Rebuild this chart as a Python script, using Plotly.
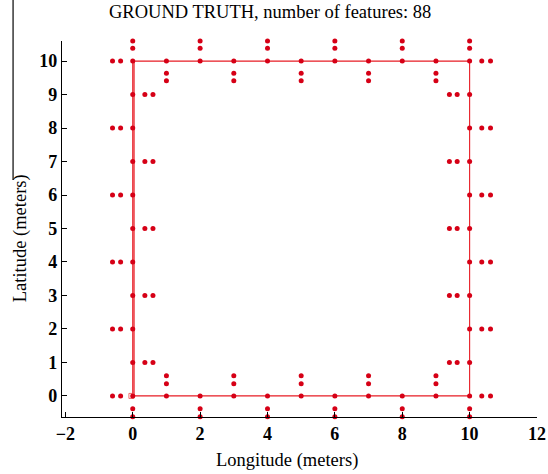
import plotly.graph_objects as go

# Robot path around the 10 m x 10 m square (start at the origin)
path_x = [0.04, 0.04, 10, 10, 0, 0]
path_y = [0, 10, 10, 0, 0, 10]

# Pose markers at every metre along the square perimeter
pose_x = [0, 1, 2, 3, 4, 5, 6, 7, 8, 9, 10,
          0, 1, 2, 3, 4, 5, 6, 7, 8, 9, 10,
          0, 0, 0, 0, 0, 0, 0, 0, 0,
          10, 10, 10, 10, 10, 10, 10, 10, 10]
pose_y = [10, 10, 10, 10, 10, 10, 10, 10, 10, 10, 10,
          0, 0, 0, 0, 0, 0, 0, 0, 0, 0, 0,
          1, 2, 3, 4, 5, 6, 7, 8, 9,
          1, 2, 3, 4, 5, 6, 7, 8, 9]

# Ground-truth landmark positions (88 features)
top_x = [0, 0, 2, 2, 4, 4, 6, 6, 8, 8, 10, 10,
         1, 1, 3, 3, 5, 5, 7, 7, 9, 9]
top_y = [10.38, 10.6, 10.38, 10.6, 10.38, 10.6, 10.38, 10.6, 10.38, 10.6, 10.38, 10.6,
         9.64, 9.41, 9.64, 9.41, 9.64, 9.41, 9.64, 9.41, 9.64, 9.41]

bottom_x = [0, 0, 2, 2, 4, 4, 6, 6, 8, 8, 10, 10,
            1, 1, 3, 3, 5, 5, 7, 7, 9, 9]
bottom_y = [-0.38, -0.62, -0.38, -0.62, -0.38, -0.62, -0.38, -0.62, -0.38, -0.62, -0.38, -0.62,
            0.36, 0.6, 0.36, 0.6, 0.36, 0.6, 0.36, 0.6, 0.36, 0.6]

left_x = [-0.36, -0.6, -0.36, -0.6, -0.36, -0.6, -0.36, -0.6, -0.36, -0.6, -0.36, -0.6,
          0.36, 0.6, 0.36, 0.6, 0.36, 0.6, 0.36, 0.6, 0.36, 0.6]
left_y = [0, 0, 2, 2, 4, 4, 6, 6, 8, 8, 10, 10,
          1, 1, 3, 3, 5, 5, 7, 7, 9, 9]

right_x = [10.36, 10.62, 10.36, 10.62, 10.36, 10.62, 10.36, 10.62, 10.36, 10.62, 10.36, 10.62,
           9.63, 9.4, 9.63, 9.4, 9.63, 9.4, 9.63, 9.4, 9.63, 9.4]
right_y = [0, 0, 2, 2, 4, 4, 6, 6, 8, 8, 10, 10,
           1, 1, 3, 3, 5, 5, 7, 7, 9, 9]

x_ticks = [-2, 0, 2, 4, 6, 8, 10, 12]
y_ticks = [0, 1, 2, 3, 4, 5, 6, 7, 8, 9, 10]

RED_LINE = "rgb(232,28,36)"
RED_DOT = "rgb(214,0,22)"

fig = go.Figure()

fig.add_trace(go.Scatter(x=path_x, y=path_y, mode="lines",
                         line=dict(color=RED_LINE, width=1.1),
                         hoverinfo="skip", cliponaxis=False))

fig.add_trace(go.Scatter(x=[-0.04], y=[0], mode="markers", cliponaxis=False,
                         marker=dict(symbol="square-open", size=5,
                                     color="rgb(240,110,110)",
                                     line=dict(width=1))))

fig.add_trace(go.Scatter(x=pose_x, y=pose_y, mode="markers", cliponaxis=False,
                         marker=dict(symbol="circle", size=5, color=RED_DOT)))

feat_x = top_x + bottom_x + left_x + right_x
feat_y = top_y + bottom_y + left_y + right_y
fig.add_trace(go.Scatter(x=feat_x, y=feat_y, mode="markers", cliponaxis=False,
                         marker=dict(symbol="circle", size=5, color=RED_DOT)))

serif = "Liberation Serif, Times New Roman, serif"

axis_common = dict(
    showgrid=False, zeroline=False, automargin=False,
    showline=True, linecolor="black", linewidth=1.2, mirror=False,
    ticks="inside", ticklen=5, tickwidth=1, tickcolor="black",
    tickfont=dict(family=serif, size=18, color="black", weight="bold"),
)

fig.update_layout(
    width=548, height=474,
    margin=dict(l=62, r=11, t=41, b=57),
    paper_bgcolor="white", plot_bgcolor="white",
    showlegend=False,
    title=dict(text="GROUND TRUTH, number of features: 88",
               font=dict(family=serif, size=18.5, color="black"),
               x=0.493, xref="container", xanchor="center",
               y=0.975, yref="container", yanchor="middle"),
    xaxis=dict(range=[-2.1, 12.0], tickvals=x_ticks, **axis_common),
    yaxis=dict(range=[-0.63, 10.6], tickvals=y_ticks, **axis_common),
)

title_font = dict(family=serif, size=18.5, color="black")
fig.add_annotation(text="Longitude (meters)", xref="paper", yref="paper",
                   x=0.474, y=-0.117, xanchor="center", yanchor="middle",
                   showarrow=False, font=title_font)
fig.add_annotation(text="Latitude (meters)", xref="paper", yref="paper",
                   x=-0.088, y=0.476, xanchor="center", yanchor="middle",
                   textangle=-90, showarrow=False, font=title_font)

# Left border rule at the top of the page
fig.add_shape(type="line", xref="paper", yref="paper",
              x0=-0.103, x1=-0.103, y0=1.11, y1=0.63,
              line=dict(color="rgb(40,40,40)", width=1.4))

fig.write_html("out.html")
